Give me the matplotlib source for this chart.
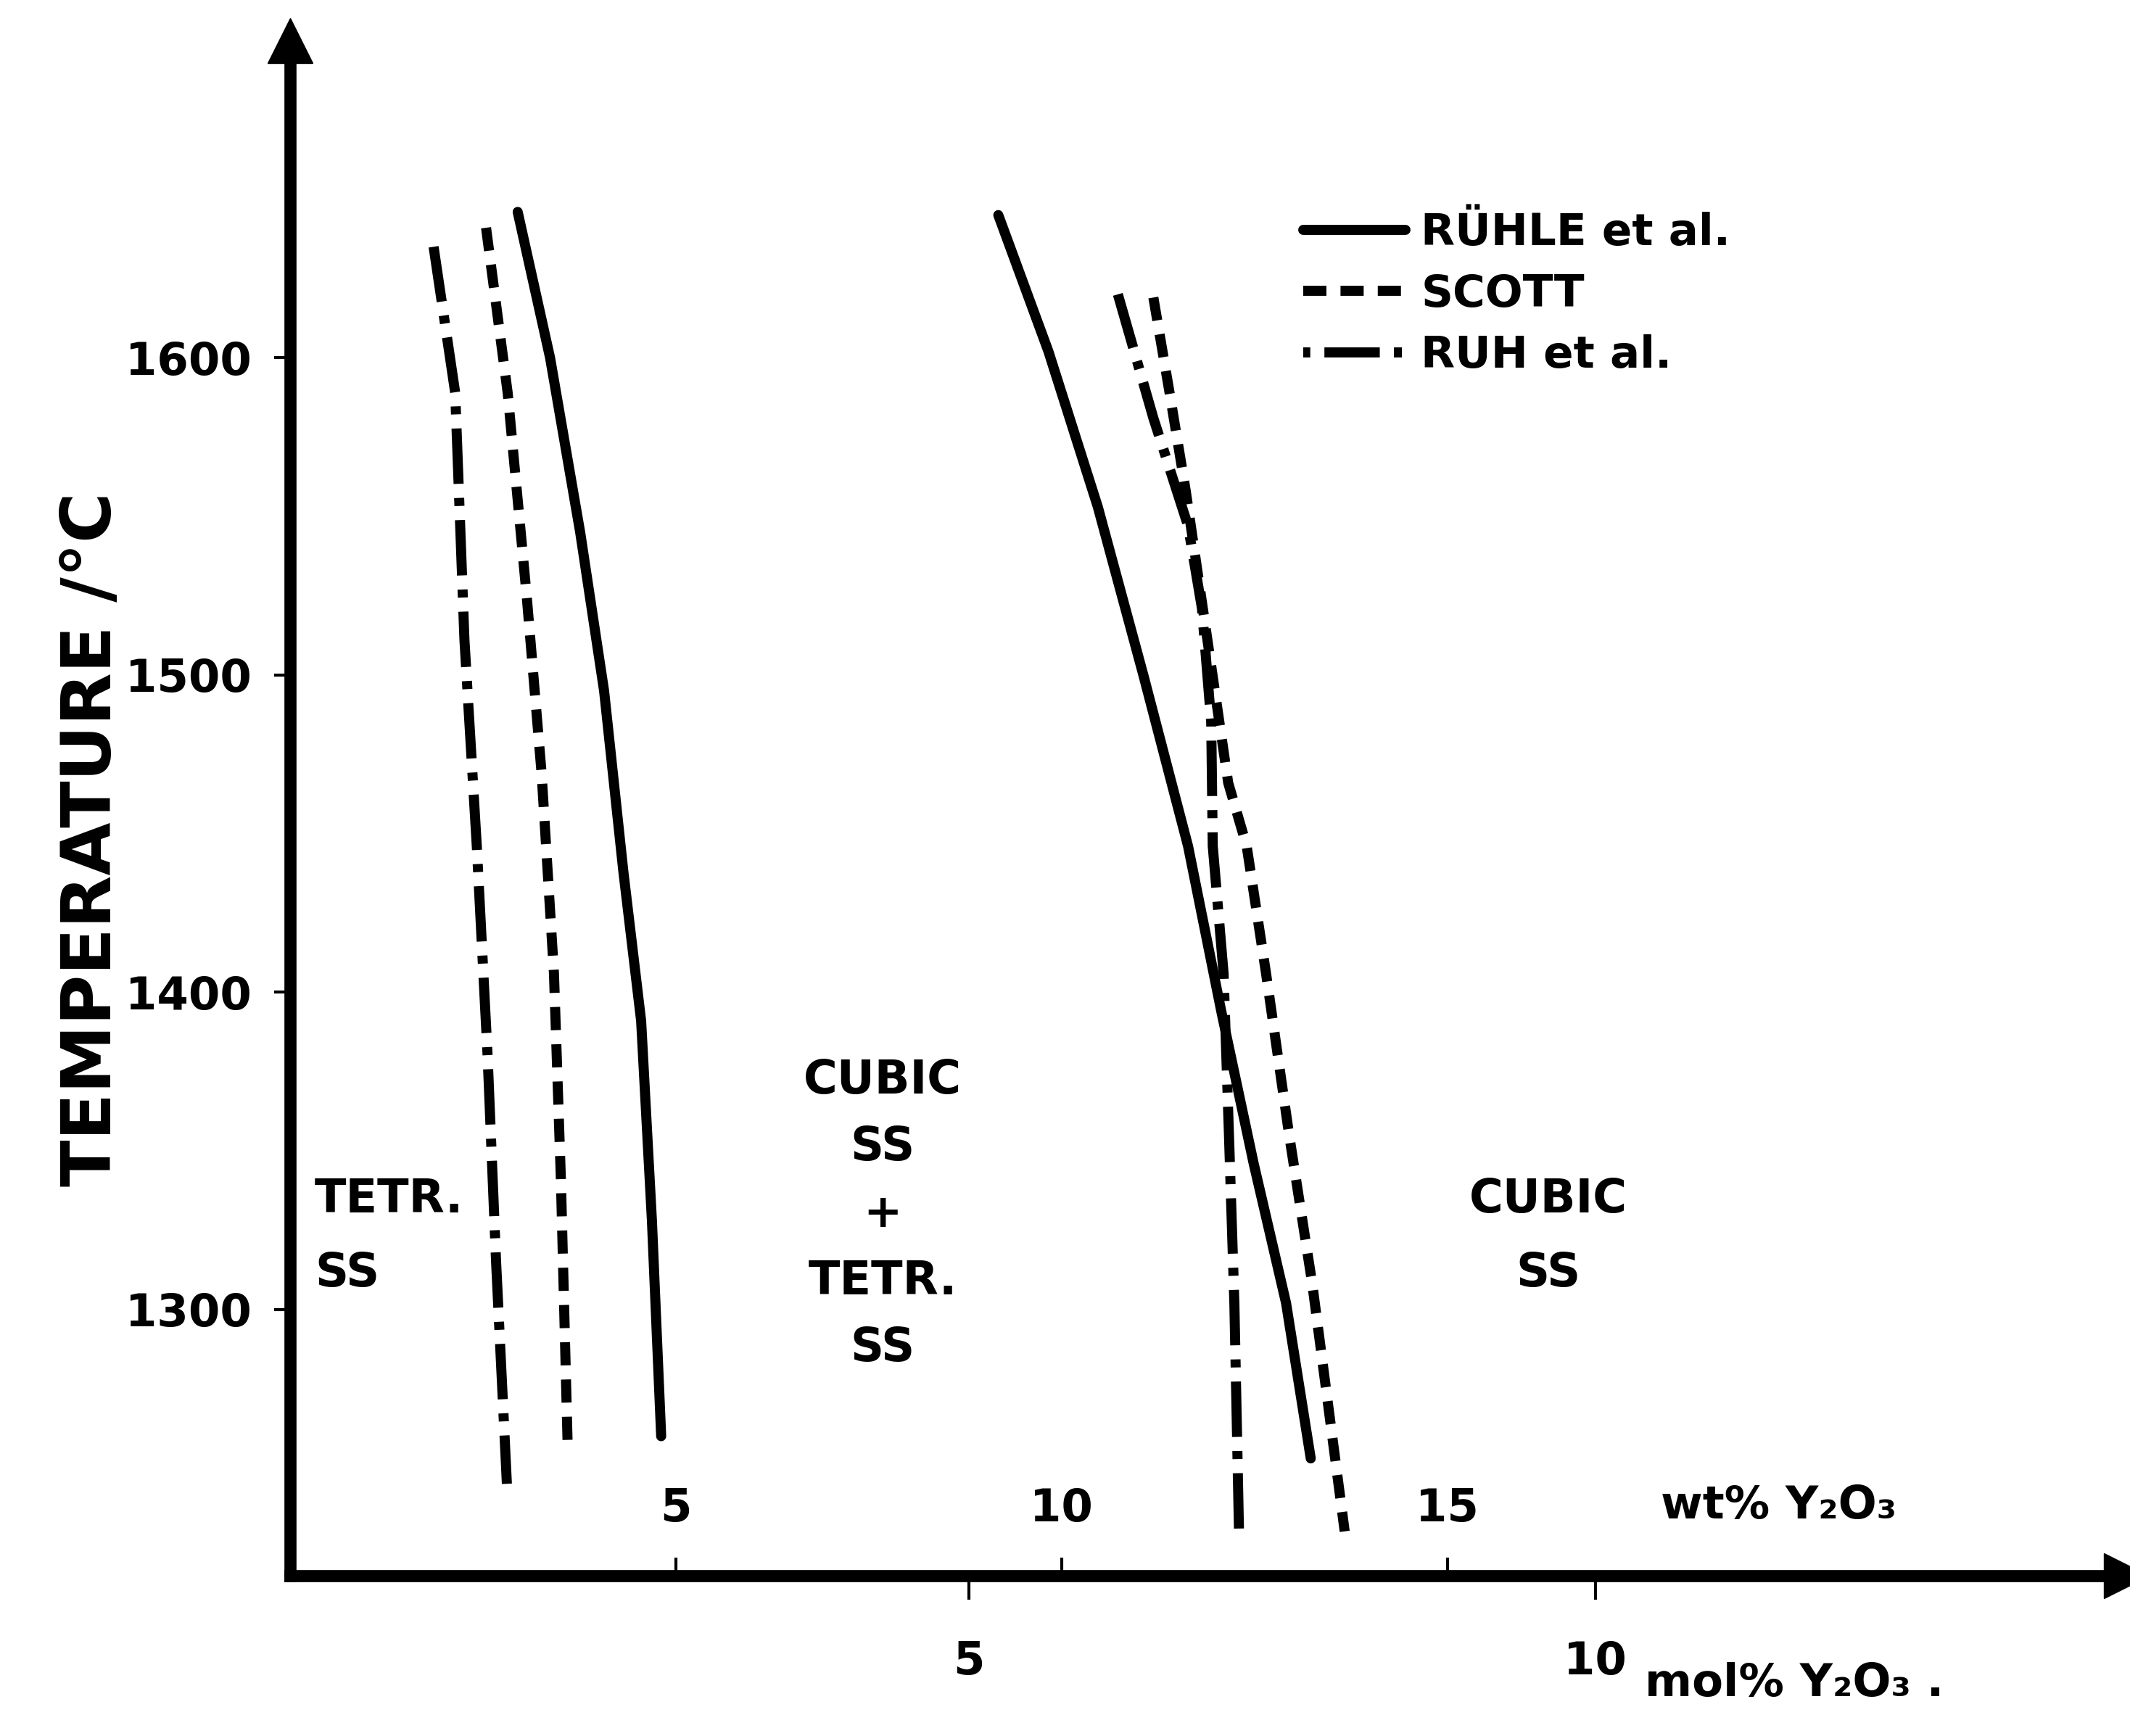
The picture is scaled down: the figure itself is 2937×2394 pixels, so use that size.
import matplotlib
matplotlib.use("Agg")
import matplotlib.pyplot as plt
from matplotlib.lines import Line2D

plt.rcParams['font.family'] = ['DejaVu Sans']
plt.rcParams['font.weight'] = 'bold'

# phase boundaries: x = wt% Y2O3, y = temperature in deg C
ruehle_left_wt = [2.95, 3.37, 3.76, 4.07, 4.32, 4.55, 4.69, 4.81]
ruehle_left_t = [1646, 1600, 1545, 1495, 1438, 1391, 1328, 1260]
scott_left_wt = [2.54, 2.82, 3.07, 3.26, 3.42, 3.51, 3.60]
scott_left_t = [1641, 1589, 1524, 1469, 1406, 1341, 1255]
ruh_left_wt = [1.86, 2.14, 2.26, 2.42, 2.56, 2.67, 2.81]
ruh_left_t = [1635, 1589, 1511, 1446, 1380, 1315, 1245]

ruehle_right_wt = [9.18, 9.83, 10.47, 11.06, 11.64, 12.07, 12.49, 12.91, 13.23]
ruehle_right_t = [1645, 1602, 1553, 1500, 1446, 1394, 1346, 1302, 1253]
ruh_right_wt = [10.73, 11.19, 11.64, 11.82, 11.94, 11.96, 12.10, 12.17, 12.24, 12.30]
ruh_right_t = [1620, 1581, 1547, 1521, 1485, 1446, 1406, 1355, 1302, 1230]
scott_right_wt = [11.19, 11.40, 11.61, 12.16, 12.40, 12.65, 12.95, 13.25, 13.67]
scott_right_t = [1619, 1589, 1558, 1466, 1446, 1406, 1355, 1308, 1230]

temp_ticks = [1300, 1400, 1500, 1600]
wt_ticks = [5, 10, 15]
mol_ticks = [5, 10]

M_Y2O3 = 225.81
M_ZRO2 = 123.22


def wt2mol(w):
    a = w / M_Y2O3
    b = (100 - w) / M_ZRO2
    return 100 * a / (a + b)


def mol2wt(m):
    a = m * M_Y2O3
    b = (100 - m) * M_ZRO2
    return 100 * a / (a + b)


solid = dict(color='k', lw=10, ls='-', solid_capstyle='round')
dotted = dict(color='k', lw=10, ls=(0, (2.3, 1.4)))
dashdot = dict(color='k', lw=10, ls=(0, (5.5, 1.4, 0.8, 1.4)))

fig = plt.figure(figsize=(29.37, 23.94), dpi=100)
ax = fig.add_axes([0.1362, 0.0923, 0.862, 0.8843])

ax.plot(ruehle_left_wt, ruehle_left_t, **solid)
ax.plot(scott_left_wt, scott_left_t, **dotted)
ax.plot(ruh_left_wt, ruh_left_t, **dashdot)
ax.plot(ruehle_right_wt, ruehle_right_t, **solid)
ax.plot(scott_right_wt, scott_right_t, **dotted)
ax.plot(ruh_right_wt, ruh_right_t, **dashdot)

ax.set_xlim(0, 23.8)
ax.set_ylim(1216, 1700)

for s in ['top', 'right']:
    ax.spines[s].set_visible(False)
for s in ['left', 'bottom']:
    ax.spines[s].set_linewidth(12)

# arrow heads on the axes
ax.plot(1, 0, marker='>', ms=44, color='k', transform=ax.transAxes, clip_on=False)
ax.plot(0, 1, marker='^', ms=44, color='k', transform=ax.transAxes, clip_on=False)

ax.set_yticks(temp_ticks)
ax.set_yticklabels([str(t) for t in temp_ticks])
ax.tick_params(axis='y', direction='out', length=16, width=3, pad=22, labelsize=45)

ax.set_xticks(wt_ticks)
ax.set_xticklabels([str(w) for w in wt_ticks])
ax.tick_params(axis='x', direction='in', length=18, width=3, pad=-88, labelsize=45)

sec = ax.secondary_xaxis('bottom', functions=(wt2mol, mol2wt))
sec.set_xticks(mol_ticks)
sec.set_xticklabels([str(m) for m in mol_ticks])
sec.tick_params(axis='x', direction='out', length=24, width=3, pad=40, labelsize=45)
sec.spines['bottom'].set_visible(False)

ax.text(19.3, 1238, 'wt% Y₂O₃', fontsize=45, ha='center', va='center')
ax.text(19.5, 1182, 'mol% Y₂O₃ .', fontsize=45, ha='center', va='center')
ax.text(-0.108, 0.48, 'TEMPERATURE /°C', transform=ax.transAxes, rotation=90,
        fontsize=68, ha='center', va='center')

ax.text(0.32, 1323, 'TETR.\nSS', fontsize=46, ha='left', va='center', linespacing=1.8)
ax.text(7.68, 1330, 'CUBIC\nSS\n+\nTETR.\nSS', fontsize=46, ha='center', va='center',
        linespacing=1.62)
ax.text(16.31, 1323, 'CUBIC\nSS', fontsize=46, ha='center', va='center', linespacing=1.8)

leg_dashdot = dict(dashdot, ls=(7.0, (5.5, 1.4, 0.8, 1.4)))
handles = [Line2D([], [], **solid), Line2D([], [], **dotted), Line2D([], [], **leg_dashdot)]
ax.legend(handles, ['RÜHLE et al.', 'SCOTT', 'RUH et al.'], loc='upper left',
          bbox_to_anchor=(0.612, 0.878), bbox_transform=fig.transFigure, frameon=False,
          fontsize=44, handlelength=2.3, handletextpad=0.35, labelspacing=0.42,
          borderaxespad=0, borderpad=0)

fig.savefig('out.png', dpi=100)
